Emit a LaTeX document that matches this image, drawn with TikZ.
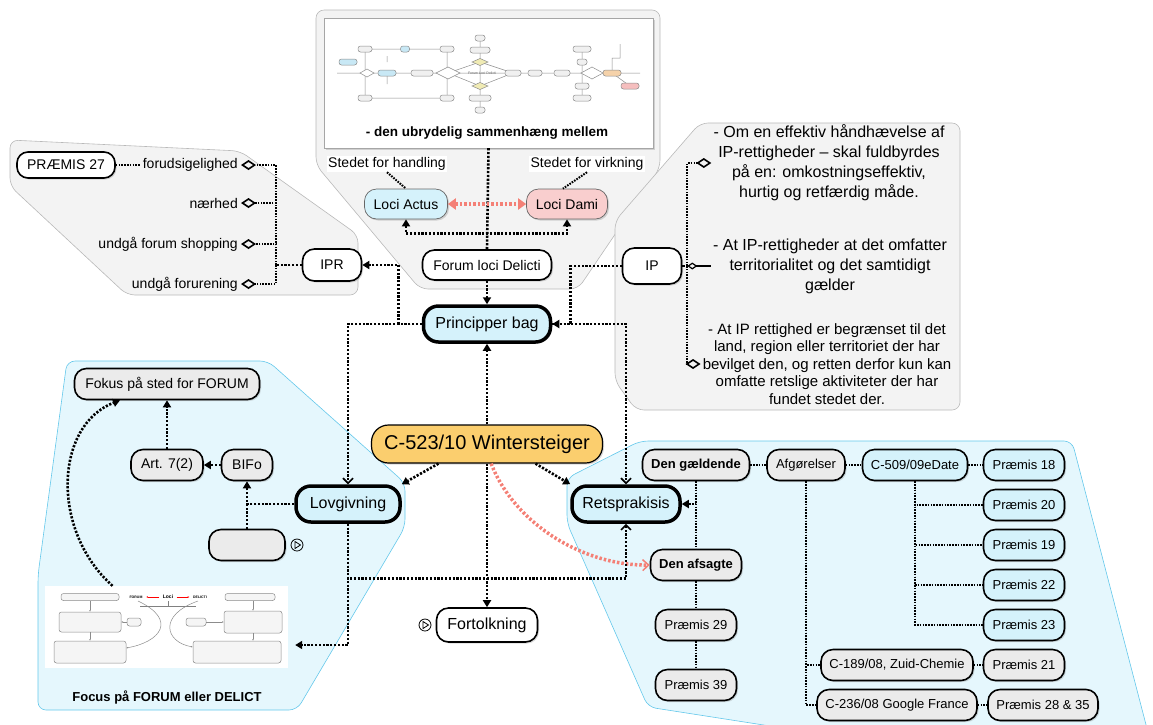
\documentclass[tikz,border=0pt]{standalone}
\usepackage{fontspec}
\setmainfont{Liberation Sans}
\usetikzlibrary{arrows.meta,shadows}

\definecolor{nodeblue}{RGB}{213,242,251}
\definecolor{nodegrey}{RGB}{235,235,235}
\definecolor{nodepink}{RGB}{249,206,206}
\definecolor{wintorange}{RGB}{251,206,110}
\definecolor{panelgrey}{RGB}{243,243,243}
\definecolor{panelline}{RGB}{185,185,185}
\definecolor{panelblue}{RGB}{229,247,253}
\definecolor{panelcyan}{RGB}{100,200,235}
\definecolor{redarrow}{RGB}{244,128,118}
\definecolor{miniblue}{RGB}{200,232,245}
\definecolor{miniyellow}{RGB}{240,235,180}
\definecolor{miniorange}{RGB}{245,210,170}
\definecolor{minired}{RGB}{245,190,190}

\begin{document}
\begin{tikzpicture}[x=1pt,y=-1pt,
    f13/.style={font=\fontsize{13}{15}\selectfont},
    f14/.style={font=\fontsize{14}{16}\selectfont},
    f16/.style={font=\fontsize{16}{18}\selectfont},
    pill/.style={draw, line width=1.6pt, rounded corners=12pt, minimum height=31pt, inner xsep=5pt, f13,
        drop shadow={shadow xshift=1.5pt,shadow yshift=-1.5pt,opacity=.3}},
    gpill/.style={pill, fill=nodegrey},
    bpill/.style={pill, fill=nodeblue},
    fat/.style={pill, fill=nodeblue, line width=3.5pt, rounded corners=15pt, minimum height=36pt, f16},
    link/.style={line width=2.6pt, dash pattern=on 2.2pt off 1.6pt},
    link2/.style={line width=2pt, dash pattern=on 1.6pt off 1.2pt},
    redlink/.style={redarrow, line width=3.5pt, dash pattern=on 2.5pt off 2pt},
    arr/.style={-{Triangle[length=7pt,width=8pt]}},
    barb/.style={-{Straight Barb[length=5pt,width=10pt,line width=1.6pt]}},
    dia/.style={-{Diamond[open,length=15pt,width=10pt,line width=1.6pt]}},
    panel/.style={rounded corners=8pt, line width=.6pt},
    mini/.style={draw=black!45, line width=.5pt, rounded corners=2.5pt}]
\useasboundingbox (0,0) rectangle (1153,724);

% grey and blue panels
\filldraw[panel,fill=panelgrey,draw=panelline] (316,10) -- (660,10) -- (660,168) -- (578,289) -- (420,289) -- (316,165) -- cycle;
\filldraw[panel,fill=panelgrey,draw=panelline] (10,140) -- (240,151) -- (358,235) -- (358,295) -- (127,295) -- (10,186) -- cycle;
\filldraw[panel,fill=panelgrey,draw=panelline] (700,123) -- (960,123) -- (960,410) -- (636,410) -- (615,381) -- (615,221) -- cycle;
\filldraw[panel,fill=panelblue,draw=panelcyan] (67,361) -- (268,361) -- (405,483) -- (405,527) -- (297,710) -- (38,710) -- (38,575) -- cycle;
\filldraw[panel,fill=panelblue,draw=panelcyan] (567,478) -- (640,441) -- (1072,441) -- (1150,740) -- (860,740) -- (648,707) -- (567,523) -- cycle;

% thumbnail of the big chart
\node[draw=black!35, fill=white, minimum width=329pt, minimum height=130pt, inner sep=0pt,
    drop shadow={shadow xshift=1.5pt,shadow yshift=-1.5pt,opacity=.3}] (kort) at (488.5,83) {};
\draw[black!45, line width=.5pt] (337,73) -- (640,73) (365,49) -- (365,98) (447,49) -- (447,98)
    (365,49) -- (447,49) (365,98) -- (447,98) (480,38) -- (480,110) (582,49) -- (582,98)
    (448,73) -- (480,62) -- (513,73) -- (480,86) -- cycle (612,73) -- (612,58) -- (620,58) -- (620,44)
    (612,73) -- (630,86) (387,73) -- (387,84) (387,62) -- (387,56);
\foreach \x/\y/\w/\c in {348/62/18/miniblue, 365/49/14/black!6, 405/49/9/miniblue, 447/49/14/black!6,
    387/73/18/miniblue, 422/73/22/black!6, 513/73/16/black!6, 535/73/14/black!6, 562/73/16/black!6,
    612/73/18/miniorange, 365/98/14/black!6, 447/98/14/black!6, 480/38/10/black!6, 480/50/20/black!6,
    480/98/22/black!6, 480/110/10/black!6, 582/49/18/black!6, 582/62/10/black!6, 582/86/14/black!6,
    582/98/18/black!6, 630/86/18/minired}
    \filldraw[mini, fill=\c] (\x-\w/2,\y-3) rectangle (\x+\w/2,\y+3);
\foreach \x/\y/\w/\h/\c in {367/73/14/8/white, 448/73/24/12/white, 592/73/22/12/white,
    480/62/16/7/miniyellow, 480/86/16/7/miniyellow}
    \filldraw[draw=black!45, line width=.5pt, fill=\c] (\x-\w/2,\y) -- (\x,\y-\h/2) -- (\x+\w/2,\y) -- (\x,\y+\h/2) -- cycle;
\node[font=\fontsize{3.5}{4}\selectfont, text=black!60] (minifld) at (482,73) {Forum Loci Delicti};
\node[font=\bfseries\fontsize{13.5}{15}\selectfont] (sammen) at (487,133) {- den ubrydelig sammenhæng mellem};

% top nodes
\node[fill=white, inner sep=1.5pt, f14] (handling) at (387,164) {Stedet for handling};
\node[fill=white, inner sep=1.5pt, f14] (virkning) at (587,164) {Stedet for virkning};
\node[pill, fill=nodeblue, draw=black!60, line width=.7pt, minimum width=83pt, minimum height=30pt, f14] (actus) at (406,204) {Loci Actus};
\node[pill, fill=nodepink, draw=black!60, line width=.7pt, minimum width=81pt, minimum height=30pt, f14] (dami) at (567,204) {Loci Dami};
\node[pill, fill=white, minimum width=129pt, minimum height=30pt, f14] (forum) at (487,265) {Forum loci Delicti};
\node[fat, minimum width=127pt] (bag) at (487,324) {Principper bag};
\node[pill, fill=white, minimum width=59pt, minimum height=32pt, f14] (ipr) at (332,265) {IPR};
\node[pill, fill=white, minimum width=59pt, minimum height=36pt, f14] (ip) at (652,266) {IP};

% left tree
\node[pill, fill=white, minimum width=98pt, minimum height=26pt, rounded corners=11pt, f14] (p27) at (66,165) {PRÆMIS 27};
\node[anchor=east, inner sep=3pt, f14] (forud) at (241,165) {forudsigelighed};
\node[anchor=east, inner sep=3pt, f14] (naer) at (241,203) {nærhed};
\node[anchor=east, inner sep=3pt, f14] (shop) at (241,244) {undgå forum shopping};
\node[anchor=east, inner sep=3pt, f14] (forur) at (241,284) {undgå forurening};

% right texts
\node[align=center, inner sep=2pt, font=\fontsize{16}{20}\selectfont] (om) at (829,163)
    {- Om en effektiv håndhævelse af\\IP-rettigheder – skal fuldbyrdes\\på en: omkostningseffektiv,\\hurtig og retfærdig måde.};
\node[align=center, inner sep=2pt, font=\fontsize{16}{20}\selectfont] (terr) at (830,266)
    {- At IP-rettigheder at det omfatter\\territorialitet og det samtidigt\\gælder};
\node[align=center, inner sep=2pt, font=\fontsize{15}{17.5}\selectfont] (land) at (827,364)
    {- At IP rettighed er begrænset til det\\land, region eller territoriet der har\\bevilget den, og retten derfor kun kan\\omfatte retslige aktiviteter der har\\fundet stedet der.};

% middle
\node[pill, fill=wintorange, line width=1.2pt, rounded corners=17pt, minimum width=231pt, minimum height=38pt,
    font=\fontsize{20}{22}\selectfont] (wint) at (487,444) {C-523/10 Wintersteiger};
\node[fat, minimum width=104pt] (lov) at (348,504) {Lovgivning};
\node[fat, minimum width=108pt] (rets) at (626,504) {Retsprakisis};
\node[pill, fill=white, minimum width=101pt, minimum height=34pt, f16] (fort) at (487,625) {Fortolkning};

% left blue panel
\node[gpill, minimum width=185pt, f14] (fokus) at (167,384) {Fokus på sted for FORUM};
\node[gpill, minimum width=72pt, f14] (art) at (167,465) {Art. 7(2)};
\node[gpill, minimum width=51pt, f14] (bifo) at (247,465) {BIFo};
\node[gpill, minimum width=76pt] (tom) at (247,545) {};
\node[fill=white, minimum width=243pt, minimum height=82pt, inner sep=0pt] (kort2) at (166.5,627) {};
\foreach \x/\y/\w/\h in {90/597/58/7, 250/597/50/7, 90/622/62/20, 134/622/14/8, 196/622/20/8,
    253/622/58/22, 90/652/72/22, 237/652/88/22}
    \filldraw[mini, fill=black!4] (\x-\w/2,\y-\h/2) rectangle (\x+\w/2,\y+\h/2);
\node[font=\bfseries\fontsize{3.5}{4}\selectfont] (miniforum) at (136,597) {FORUM};
\node[font=\bfseries\fontsize{5}{6}\selectfont] (miniloci) at (168,597) {Loci};
\node[font=\bfseries\fontsize{3.5}{4}\selectfont] (minidelicti) at (200,597) {DELICTI};
\draw[red, line width=.5pt, -{Latex[length=2pt]}] (miniloci.west) -- (miniforum.east);
\draw[red, line width=.5pt, -{Latex[length=2pt]}] (miniloci.east) -- (minidelicti.west);
\draw[black!50, line width=.5pt] (168,601) -- (168,606) (140,606) -- (196,606);
\draw[black!45, line width=.5pt, -{Latex[length=2pt]}] (138,601) .. controls (178,620) and (160,642) .. (126,648);
\draw[black!45, line width=.5pt, -{Latex[length=2pt]}] (198,601) .. controls (158,615) and (165,642) .. (193,647);
\draw[black!45, line width=.5pt, -{Latex[length=2pt]}] (90,601) -- (90,612);
\draw[black!45, line width=.5pt, -{Latex[length=2pt]}] (90,632) -- (90,641);
\draw[black!45, line width=.5pt, -{Latex[length=2pt]}] (253,601) -- (253,611);
\draw[black!45, line width=.5pt, -{Latex[length=2pt]}] (253,633) -- (253,641);
\draw[black!45, line width=.5pt, -{Latex[length=2pt]}] (127,622) -- (121,622);
\draw[black!45, line width=.5pt, -{Latex[length=2pt]}] (206,622) -- (224,622);
\node[font=\bfseries\fontsize{13}{15}\selectfont] (focus) at (167,697) {Focus på FORUM eller DELICT};

% right blue panel
\node[gpill, minimum width=107pt, font=\bfseries\fontsize{13}{15}\selectfont] (gaeld) at (696,465) {Den gældende};
\node[gpill, minimum width=78pt] (afg) at (806,465) {Afgørelser};
\node[bpill, minimum width=105pt] (edate) at (915,465) {C-509/09eDate};
\foreach \n/\y/\t in {p18/465/18, p20/505/20, p19/545/19, p22/585/22, p23/625/23}
    \node[bpill, minimum width=81pt] (\n) at (1024,\y) {Præmis \t};
\node[gpill, minimum width=81pt] (p21) at (1024,665) {Præmis 21};
\node[gpill, minimum width=152pt] (zuid) at (897,665) {C-189/08, Zuid-Chemie};
\node[gpill, minimum width=160pt] (google) at (897,705) {C-236/08 Google France};
\node[gpill, minimum width=110pt] (p2835) at (1043,705) {Præmis 28 \& 35};
\node[gpill, minimum width=91pt, font=\bfseries\fontsize{13}{15}\selectfont] (afsagt) at (696,565) {Den afsagte};
\node[gpill, minimum width=81pt] (p29) at (696,625) {Præmis 29};
\node[gpill, minimum width=81pt] (p39) at (696,685) {Præmis 39};

% connectors on top
\draw[link] (kort.south) -- (forum.north);
\draw[link,{Triangle[length=7pt,width=8pt]}-{Triangle[length=7pt,width=8pt]}] (actus.south) -- ++(0,14) -| (dami.south);
\draw[link2] (handling.south) -- (actus.north);
\draw[link2] (virkning.south) -- (dami.105);
\draw[redlink,{Triangle[length=8pt,width=11pt]}-{Triangle[length=8pt,width=11pt]}] (actus) -- (dami);
\draw[link,arr] (forum.south) -- (bag.north);
\draw[link,arr] (bag.west) -- ++(-23,0) |- (ipr.east);
\draw[link,barb] (bag.west) -| (lov.north);
\draw[link,arr] (ip.west) -- ++(-51,0) |- (bag.east);
\draw[link,barb] (bag.east) -| (rets.north);

% IPR tree
\draw[link] (ipr.west) -- ++(-26,0) coordinate (bus);
\foreach \n in {forud,naer,shop,forur}
    \draw[link2,dia] (bus) |- (\n.east);
\draw[link2] (p27.east) -- (forud.west);

% IP tree
\draw[link] (ip.east) -- ++(5,0) coordinate (ipbus);
\draw[link2,dia] (ipbus) |- (om.west);
\draw[link2,dia] (ipbus) |- (land.west);
\draw[line width=2.4pt,-{Diamond[open,length=10pt,width=7pt,line width=1.2pt]}] (terr.west) -- (ipbus);

% from the case
\draw[link,arr] (wint.north) -- (bag.south);
\draw[link,arr] (wint.south) -- (fort.north);
\draw[link,arr] (wint.202) -- (lov.north east);
\draw[link,arr] (wint.338) -- (rets.north west);
\draw[redlink,-{Straight Barb[length=6pt,width=11pt,line width=1.5pt]}] (wint.282) .. controls (515,525) and (585,566) .. (afsagt.west);

% Lovgivning
\draw[link,barb] (lov.south) -- ++(0,55) -| (rets.south);
\draw[link,arr] (lov.south) |- ([xshift=7pt,yshift=-18pt]kort2.east);
\draw[link,arr] (lov.west) -| (bifo.south);
\draw[link] (tom.north) -- (tom.north |- lov.west);
\draw[link,arr] (bifo.west) -- (art.east);
\draw[link,arr] (art.north) -- (fokus.south);
\draw[link,arr] ([xshift=-54pt]kort2.north) .. controls (50,530) and (55,425) .. ([xshift=-47pt]fokus.south);

% Retsprakisis
\draw[link2] (gaeld) -- (afg);
\draw[link2] (afg) -- (edate);
\draw[link2] (edate) -- (p18);
\foreach \n in {p20,p19,p22,p23}
    \draw[link2] (edate.south) |- (\n.west);
\draw[link2] (afg.south) |- (zuid.west);
\draw[link2] (afg.south) |- (google.west);
\draw[link2] (zuid) -- (p21);
\draw[link2] (google) -- (p2835);
\draw[link2] (gaeld.south) -- (afsagt.north);
\draw[link2] (afsagt) -- (p29);
\draw[link2] (p29) -- (p39);
\draw[link2,arr] (gaeld.south) |- (rets.east);

% play icons
\foreach \x/\y in {297/545, 425/625} {
    \draw[line width=.8pt] (\x,\y) circle (6);
    \draw[line width=.8pt] (\x-2,\y-3.5) -- (\x+3.5,\y) -- (\x-2,\y+3.5) -- cycle;
}
\end{tikzpicture}
\end{document}
